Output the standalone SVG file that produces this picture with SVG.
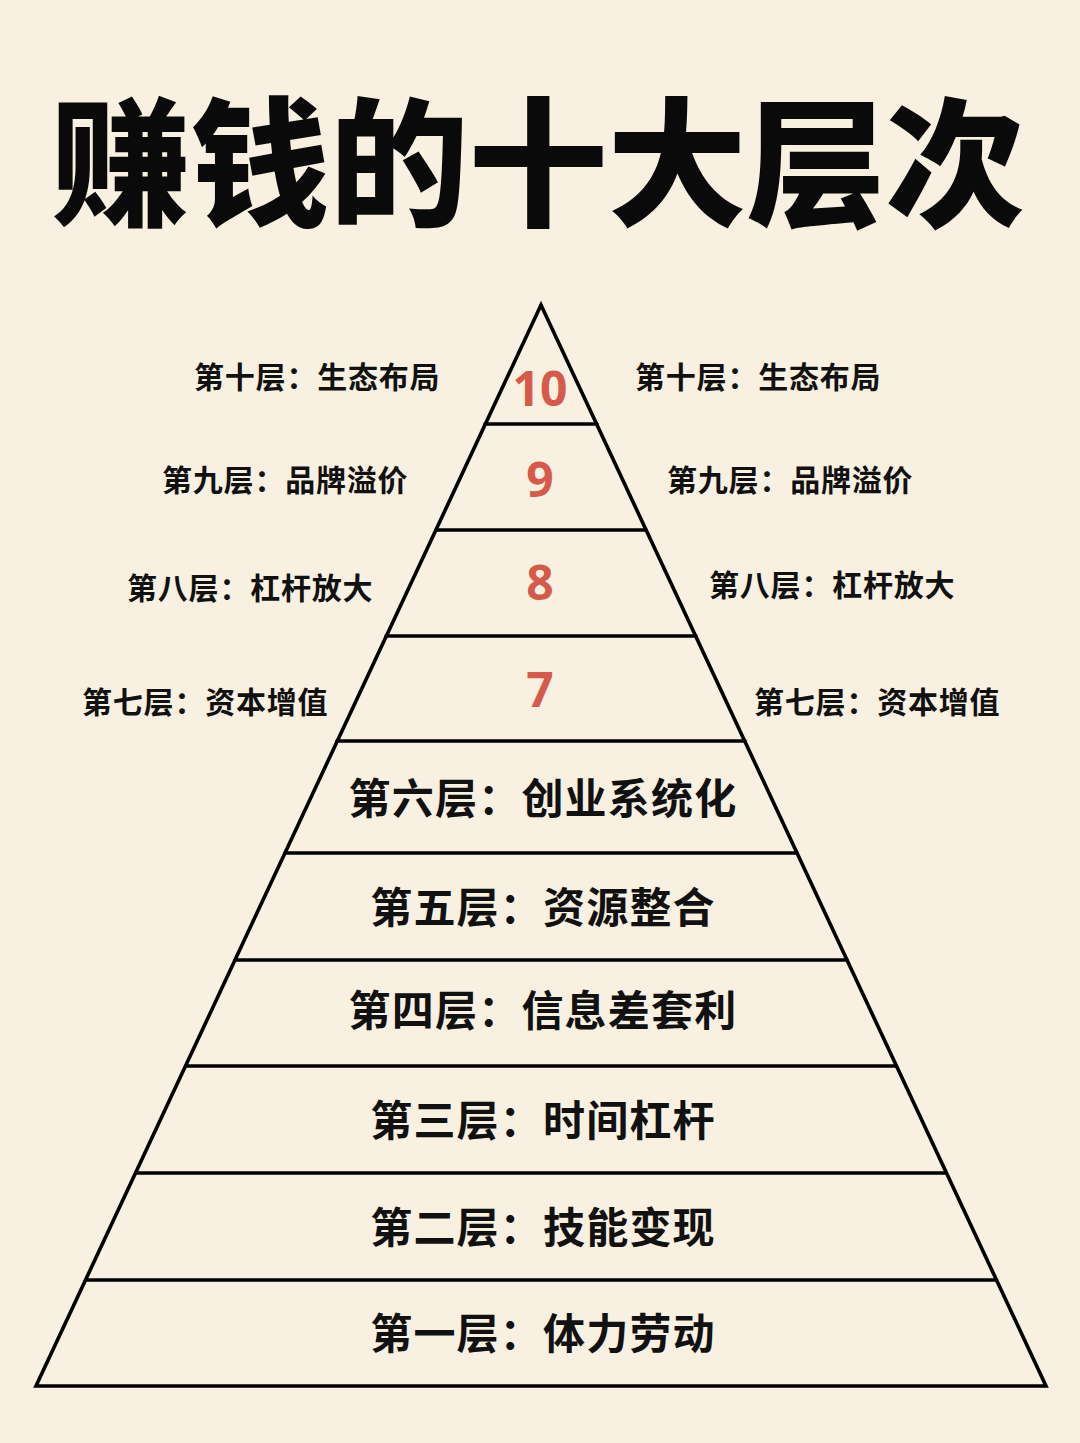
<svg xmlns="http://www.w3.org/2000/svg" width="1080" height="1443" viewBox="0 0 1080 1443">
<style>
.bg{fill:#f8f0e0}
.title{font-family:"Noto Sans CJK SC","Noto Sans",sans-serif;font-weight:900;font-size:139px;fill:#0a0a0a;text-anchor:middle}
.side{font-family:"Noto Sans CJK SC","Noto Sans",sans-serif;font-weight:700;font-size:30px;letter-spacing:0.8px;fill:#111}
.inner{font-family:"Noto Sans CJK SC","Noto Sans",sans-serif;font-weight:700;font-size:42px;letter-spacing:1.2px;fill:#111;text-anchor:middle}
.num{font-family:"Noto Sans","DejaVu Sans",sans-serif;font-weight:700;font-size:48px;fill:#d65a4a;text-anchor:middle}
.ln{stroke:#000;stroke-width:3.6;fill:none;stroke-linejoin:miter;stroke-linecap:round}
</style>
<rect class="bg" x="0" y="0" width="1080" height="1443"/>
<g id="title"><text class="title" x="538" y="215">赚钱的十大层次</text></g>
<g id="connectors">
<polygon class="ln" points="541,305 1046,1386 36,1386"/>
<line class="ln" x1="485" y1="424" x2="597" y2="424"/>
<line class="ln" x1="436" y1="530" x2="646" y2="530"/>
<line class="ln" x1="386" y1="636" x2="696" y2="636"/>
<line class="ln" x1="337" y1="741" x2="745" y2="741"/>
<line class="ln" x1="285" y1="853" x2="797" y2="853"/>
<line class="ln" x1="235" y1="960" x2="847" y2="960"/>
<line class="ln" x1="186" y1="1066" x2="896" y2="1066"/>
<line class="ln" x1="136" y1="1173" x2="946" y2="1173"/>
<line class="ln" x1="86" y1="1280" x2="996" y2="1280"/>
</g>
<g id="level10"><text class="num" x="540" y="406">10</text>
<text class="side" x="194" y="388">第十层：生态布局</text>
<text class="side" x="635" y="388">第十层：生态布局</text></g>
<g id="level9"><text class="num" x="540" y="497">9</text>
<text class="side" x="162" y="491">第九层：品牌溢价</text>
<text class="side" x="667" y="491">第九层：品牌溢价</text></g>
<g id="level8"><text class="num" x="540" y="600">8</text>
<text class="side" x="127" y="599">第八层：杠杆放大</text>
<text class="side" x="709" y="596">第八层：杠杆放大</text></g>
<g id="level7"><text class="num" x="540" y="707">7</text>
<text class="side" x="82" y="713">第七层：资本增值</text>
<text class="side" x="754" y="713">第七层：资本增值</text></g>
<g id="level6"><text class="inner" x="543" y="814">第六层：创业系统化</text></g>
<g id="level5"><text class="inner" x="543" y="923">第五层：资源整合</text></g>
<g id="level4"><text class="inner" x="543" y="1026">第四层：信息差套利</text></g>
<g id="level3"><text class="inner" x="543" y="1136">第三层：时间杠杆</text></g>
<g id="level2"><text class="inner" x="543" y="1243">第二层：技能变现</text></g>
<g id="level1"><text class="inner" x="543" y="1349">第一层：体力劳动</text></g>
</svg>
